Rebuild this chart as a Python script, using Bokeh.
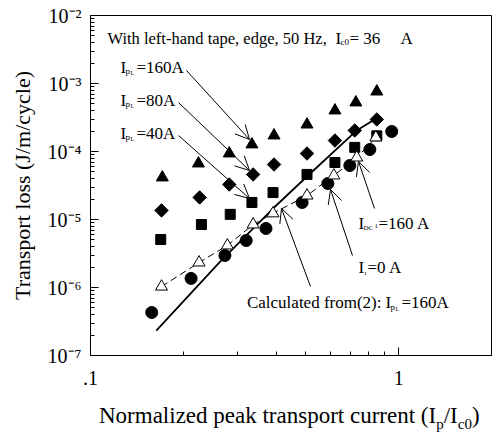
import math
from bokeh.plotting import figure
from bokeh.layouts import column
from bokeh.models import Label, Arrow, OpenHead, FixedTicker, CustomJSTickFormatter, Div
from bokeh.embed import file_html
from bokeh.resources import INLINE

# ---------------- data ----------------
tri_x = [0.171, 0.224, 0.282, 0.334, 0.394, 0.504, 0.621, 0.726, 0.849]
tri_y = [4.15e-5, 6.66e-5, 9.35e-5, 1.27e-4, 1.72e-4, 2.49e-4, 4.01e-4, 5.26e-4, 7.62e-4]

dia_x = [0.170, 0.226, 0.282, 0.337, 0.394, 0.504, 0.621, 0.720, 0.849]
dia_y = [1.36e-5, 2.11e-5, 3.27e-5, 4.59e-5, 6.44e-5, 9.35e-5, 1.45e-4, 2.04e-4, 2.96e-4]

sq_x = [0.169, 0.229, 0.284, 0.334, 0.391, 0.504, 0.621, 0.720, 0.849]
sq_y = [5.08e-6, 8.44e-6, 1.19e-5, 1.78e-5, 2.49e-5, 4.6e-5, 6.89e-5, 1.15e-4, 1.70e-4]

circ_x = [0.158, 0.212, 0.273, 0.320, 0.371, 0.486, 0.589, 0.694, 0.806, 0.949]
circ_y = [4.29e-7, 1.36e-6, 2.96e-6, 4.91e-6, 7.38e-6, 1.78e-5, 3.38e-5, 6.22e-5, 1.07e-4, 1.97e-4]

open_x = [0.170, 0.225, 0.278, 0.337, 0.391, 0.504, 0.616, 0.731, 0.843]
open_y = [1.03e-6, 2.33e-6, 4.15e-6, 8.44e-6, 1.23e-5, 2.25e-5, 4.44e-5, 8.16e-5, 1.61e-4]

calc_x = [0.1635, 0.2634, 0.394, 0.508, 0.731, 0.855]
calc_y = [2.33e-7, 2.41e-6, 1.50e-5, 4.44e-5, 2.04e-4, 3.16e-4]

y_major = [1e-7, 1e-6, 1e-5, 1e-4, 1e-3, 1e-2]
x_major = [0.1, 1.0]
x_major_text = [".1", "1"]

XMIN, XMAX = 0.1, 2.0
YMIN, YMAX = 1e-7, 1e-2

# ---------------- layout helpers (canvas pixel -> data) ----------------
W, H = 495, 398
FL, FR, FT, FB = 90, 491, 15, 355  # frame edges in canvas pixels
LX0, LX1 = math.log10(XMIN), math.log10(XMAX)
LY0, LY1 = math.log10(YMIN), math.log10(YMAX)


def X(px):
    return 10 ** (LX0 + (px - FL) / (FR - FL) * (LX1 - LX0))


def Y(py):
    return 10 ** (LY1 - (py - FT) / (FB - FT) * (LY1 - LY0))


FONT = "Liberation Serif"

p = figure(width=W, height=H, x_axis_type="log", y_axis_type="log",
           x_range=(XMIN, XMAX), y_range=(YMIN, YMAX),
           output_backend="svg", toolbar_location=None,
           min_border_left=FL, min_border_right=W - FR,
           min_border_top=FT, min_border_bottom=H - FB)
p.background_fill_color = "white"
p.border_fill_color = "white"
p.outline_line_color = "black"
p.outline_line_width = 1
p.grid.visible = False

p.xaxis.ticker = FixedTicker(ticks=x_major, minor_ticks=[0.2, 0.3, 0.4, 0.5, 0.6, 0.7, 0.8, 0.9])
p.yaxis.ticker = FixedTicker(ticks=y_major,
                             minor_ticks=[k * 10 ** n for n in range(-7, -2) for k in range(2, 10)])

p.xaxis.formatter = CustomJSTickFormatter(args=dict(xt=x_major, xl=x_major_text), code="""
let best = 0;
for (let i = 0; i < xt.length; i++) {
  if (Math.abs(Math.log10(xt[i]) - Math.log10(tick)) < Math.abs(Math.log10(xt[best]) - Math.log10(tick))) best = i;
}
return xl[best];
""")
p.yaxis.formatter = CustomJSTickFormatter(code="""
const sup = {'-': '\u207b', '0': '\u2070', '1': '\u00b9', '2': '\u00b2', '3': '\u00b3',
             '4': '\u2074', '5': '\u2075', '6': '\u2076', '7': '\u2077', '8': '\u2078', '9': '\u2079'};
const e = Math.round(Math.log10(tick)).toString();
return '10' + e.split('').map(c => sup[c]).join('');
""")

for ax in (p.xaxis[0], p.yaxis[0]):
    ax.major_tick_in = 8
    ax.major_tick_out = 0
    ax.minor_tick_in = 4
    ax.minor_tick_out = 0
    ax.axis_line_color = "black"
    ax.major_tick_line_color = "black"
    ax.minor_tick_line_color = "black"
    ax.major_label_text_font = FONT
    ax.major_label_text_font_size = "20px"
    ax.major_label_text_color = "black"
    ax.axis_label_text_font = FONT
    ax.axis_label_text_font_style = "normal"
    ax.axis_label_text_font_size = "22px"
    ax.axis_label_text_color = "black"

p.xaxis.major_label_standoff = 15
p.yaxis.major_label_standoff = 9
p.yaxis.axis_label = "Transport loss (J/m/cycle)"
p.yaxis.axis_label_standoff = 10

# ---------------- glyphs ----------------
p.line(calc_x, calc_y, line_color="black", line_width=1.8)
p.line(open_x, open_y, line_color="black", line_width=1, line_dash="7 4")
p.scatter(tri_x, tri_y, marker="triangle", size=12, fill_color="black", line_color="black")
p.scatter(dia_x, dia_y, marker="square", angle=math.pi / 4, size=9.5, fill_color="black", line_color="black")
p.scatter(sq_x, sq_y, marker="square", size=10, fill_color="black", line_color="black")
p.scatter(circ_x, circ_y, marker="circle", size=12, fill_color="black", line_color="black")
p.scatter(open_x, open_y, marker="triangle", size=12, fill_color="white", line_color="black", line_width=1)


def lab(px, py, text, size, align="left", baseline="alphabetic"):
    p.add_layout(Label(x=X(px), y=Y(py), text=text, text_font=FONT,
                       text_font_size=size, text_align=align,
                       text_baseline=baseline, text_color="black"))


# in-plot annotations
TS = "17px"
lab(107, 38, "With left-hand tape, edge, 50 Hz,", "16.5px")
lab(335, 38, "I", TS)
lab(340, 41, "c0", "9px")
lab(349, 38, "= 36", TS)
lab(400, 38, "A", TS)

for base, txt in zip([67, 100, 133], ["=160A", "=80A", "=40A"]):
    lab(120, base, "I", TS)
    lab(125, base + 3, "p", "9px")
    lab(130, base + 5, "L", "6px")
    lab(136, base, txt, TS)

lab(358, 223, "I", TS)
lab(363, 227, "DC", "7px")
lab(374, 225, "1", "7px")
lab(378, 223, "=160 A", TS)

lab(358, 267, "I", TS)
lab(364, 272, "t", "7px")
lab(367, 267, "=0 A", TS)

lab(381, 302, "Calculated from(2):", TS, align="right")
lab(385, 302, "I", TS)
lab(390, 306, "p", "9px")
lab(395, 308, "L", "6px")
lab(401, 302, "=160A", TS)

arrows = [((186, 70), (249, 139)), ((178, 102), (249, 170)), ((178, 135), (249, 198)),
          ((374, 208), (358, 161)), ((352, 255), (330, 189)), ((310, 286), (281, 208))]
for (sx, sy), (ex, ey) in arrows:
    p.add_layout(Arrow(end=OpenHead(size=14, line_width=1, line_color="black"),
                       x_start=X(sx), y_start=Y(sy), x_end=X(ex), y_end=Y(ey),
                       line_width=1, line_color="black"))

xtitle = Div(
    text=('<div style="font-family:\'Liberation Serif\';font-size:23px;line-height:26px;'
          'color:black;white-space:nowrap;padding-left:99px;padding-top:5px;">'
          'Normalized peak transport current (I<sub style="font-size:15px">p</sub>'
          '/I<sub style="font-size:15px">c0</sub>)</div>'),
    width=W, height=34, margin=(0, 0, 0, 0))

layout = column(p, xtitle, spacing=0)

open("out.html", "w").write(file_html(layout, INLINE))
